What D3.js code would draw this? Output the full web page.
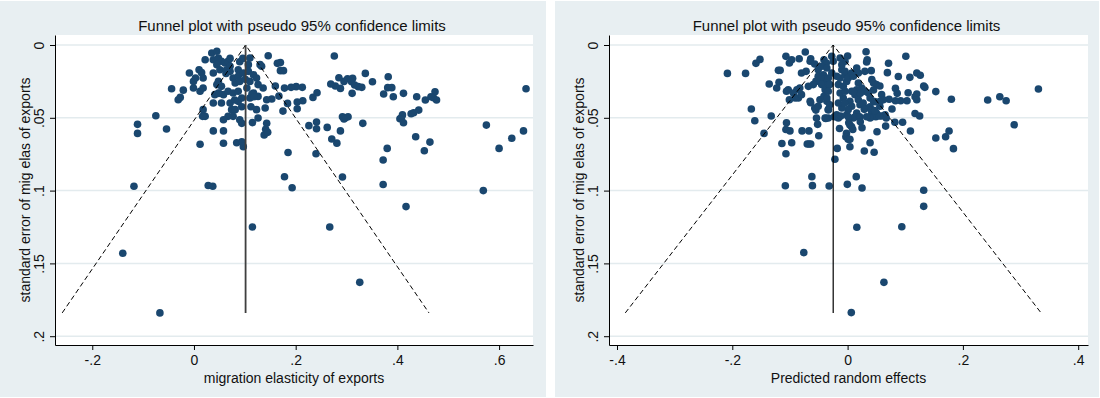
<!DOCTYPE html>
<html>
<head>
<meta charset="utf-8">
<script src="https://cdn.jsdelivr.net/npm/d3@7"></script>
<style>
  body { margin: 0; background: #fff; }
  svg { display: block; font-family: "Liberation Sans", Arial, sans-serif; }
</style>
</head>
<body>
<svg id="chart" width="1100" height="398"></svg>
<script>
// [effect, standard error] (migration elasticity of exports)
const elasticityPoints = [
  [0.653,0.030],[0.575,0.055],[0.648,0.059],[0.625,0.064],[0.600,0.071],[0.569,0.100],[0.417,0.111],[0.326,0.163],
  [0.267,0.125],[0.115,0.125],[-0.067,0.184],[-0.140,0.143],[-0.118,0.097],[0.028,0.0965],[0.037,0.097],[0.193,0.098],
  [0.178,0.0905],[0.292,0.0907],[0.372,0.0958],[0.372,0.079],[0.380,0.071],[0.453,0.0726],[0.464,0.0667],[0.436,0.063],
  [0.240,0.0747],[0.185,0.0738],[0.281,0.0674],[0.271,0.0646],[0.288,0.059],[0.262,0.0566],[0.226,0.0554],[0.241,0.0575],
  [0.241,0.0529],[0.332,0.0538],[0.292,0.0493],[0.298,0.050],[0.303,0.0493],[0.295,0.0508],[0.408,0.050],[0.410,0.048],
  [0.405,0.0506],[0.412,0.0534],[0.427,0.0472],[0.432,0.0465],[0.442,0.0447],[0.438,0.0355],[0.455,0.0378],[0.471,0.0362],
  [0.474,0.0321],[0.477,0.0378],[0.466,0.0355],[0.412,0.0332],[0.392,0.0355],[0.373,0.0337],[0.381,0.0293],[0.389,0.0293],
  [0.382,0.0218],[0.351,0.0252],[0.337,0.0195],[0.330,0.0291],[0.323,0.0286],[0.311,0.0332],[0.310,0.0252],[0.312,0.0229],
  [0.302,0.0232],[0.295,0.025],[0.285,0.0225],[0.288,0.0298],[0.278,0.0282],[0.269,0.0268],[0.276,0.0076],[0.316,0.0275],
  [0.234,0.036],[0.242,0.0328],[0.213,0.0291],[0.201,0.0286],[0.191,0.0291],[0.178,0.0296],[0.203,0.0392],[0.203,0.0438],
  [0.214,0.0383],[0.184,0.0401],[0.175,0.0454],[0.167,0.0351],[0.153,0.0371],[0.160,0.0282],[0.170,0.0176],[0.176,0.0176],
  [0.164,0.0126],[0.170,0.0121],[0.146,0.0074],
  [-0.075,0.0486],[-0.044,0.030],[-0.021,0.031],[-0.031,0.0376],[-0.027,0.036],[-0.009,0.0192],[-0.001,0.025],[0.003,0.0227],
  [-0.001,0.0295],[0.010,0.017],[0.015,0.019],[0.018,0.0227],[0.012,0.0318],[0.018,0.0295],[0.022,0.0101],[0.035,0.0055],
  [0.045,0.0043],[0.038,0.0101],[0.048,0.0089],[0.054,0.0112],[0.045,0.0135],[0.061,0.0124],[0.067,0.0112],[0.051,0.017],
  [0.064,0.017],[0.071,0.0146],[0.038,0.0192],[0.048,0.025],[0.045,0.0272],[0.054,0.0284],[0.048,0.033],[0.041,0.0341],
  [0.058,0.0341],[0.067,0.0318],[0.077,0.033],[0.087,0.0318],[0.094,0.0364],[0.087,0.0387],[0.038,0.0398],[0.054,0.0398],
  [0.071,0.0398],[0.074,0.0444],[0.081,0.0444],[0.067,0.049],[0.022,0.049],[0.017,0.049],[0.018,0.0444],[0.077,0.049],
  [0.058,0.0513],[0.090,0.0513],[0.071,0.0181],[0.077,0.0227],[0.081,0.0261],[0.087,0.017],[0.087,0.0215],[0.090,0.025],
  [0.097,0.0192],[0.110,0.0089],[0.107,0.0135],[0.107,0.0181],[0.110,0.025],[0.117,0.0204],[0.123,0.0227],[0.126,0.0272],
  [0.117,0.033],[0.104,0.0295],[0.110,0.0364],[0.126,0.0353],[0.136,0.0295],[0.143,0.0376],[0.140,0.0433],[0.123,0.0444],
  [0.126,0.0501],[0.133,0.0146],[0.130,0.0135],
  [0.114,0.0337],[0.118,0.0355],[0.112,0.0424],[0.094,0.0424],[0.080,0.0378],[0.049,0.0332],[0.063,0.0195],[0.090,0.0115],
  [0.096,0.0092],[0.071,0.0092],[0.101,0.0236],
  [0.143,0.0538],[0.115,0.0533],[0.141,0.0579],[0.138,0.0618],[0.145,0.060],[0.094,0.0538],[0.038,0.059],[0.058,0.059],
  [0.058,0.0675],[0.012,0.0682],[0.084,0.0671],[0.094,0.0664],[0.097,0.0698],[-0.111,0.0545],[-0.111,0.0607],[-0.054,0.0577]
];

// [predicted random effect, standard error]
const randomEffectPoints = [
  [-0.2085,0.0195],[-0.177,0.0195],[-0.159,0.0126],[-0.152,0.0099],[-0.167,0.044],[-0.161,0.052],[-0.1325,0.0488],[-0.145,0.0607],
  [-0.136,0.0268],[-0.114,0.0676],[-0.097,0.0671],[-0.107,0.0747],[-0.108,0.0967],[-0.106,0.0534],[-0.107,0.058],[-0.100,0.059],
  [-0.079,0.059],[-0.067,0.059],[-0.070,0.068],[-0.064,0.068],[-0.067,0.068],[-0.050,0.0623],[-0.052,0.0545],[-0.055,0.0447],
  [-0.064,0.0396],[-0.062,0.0904],[-0.061,0.0966],[-0.032,0.0968],[-0.076,0.1426],[-0.022,0.0785],[-0.018,0.071],[-0.0005,0.0957],
  [0.015,0.0904],[0.025,0.0982],[0.016,0.1252],[0.063,0.163],[0.0064,0.1838],[0.094,0.1248],[0.132,0.0998],[0.132,0.1108],
  [0.1836,0.0712],[0.153,0.0639],[0.170,0.063],[0.176,0.0591],[0.109,0.0591],[0.0954,0.0531],[0.082,0.0531],[0.066,0.0557],
  [0.051,0.0596],[0.039,0.0671],[0.029,0.0728],[0.046,0.0737],[0.117,0.047],[0.125,0.0488],[0.092,0.0383],[0.083,0.0383],
  [0.103,0.0383],[0.117,0.0355],[0.134,0.0291],[0.132,0.0282],[0.153,0.032],[0.180,0.0373],[0.243,0.0378],[0.264,0.0355],
  [0.275,0.0383],[0.331,0.0302],[0.289,0.0548],[0.101,0.0077],[0.071,0.0125],[0.069,0.019],[0.041,0.0176],[0.032,0.0046],
  [0.034,0.0101],[0.033,0.0117],[0.0,0.0076],[0.120,0.0192],[0.126,0.0208],[0.108,0.0222],[0.088,0.0216],[0.083,0.0298],
  [0.086,0.0332],[0.105,0.0328],[0.120,0.0337],[0.072,0.0373],[0.077,0.044],[0.059,0.0488],[0.049,0.0493],[0.120,0.0376],
  [-0.107,0.0078],[-0.101,0.0124],[-0.097,0.0101],[-0.084,0.0094],[-0.0734,0.0048],[-0.064,0.0094],[-0.065,0.0112],[-0.057,0.013],
  [-0.051,0.017],[-0.041,0.0101],[-0.037,0.0124],[-0.045,0.0146],[-0.036,0.0158],[-0.080,0.0192],[-0.072,0.0181],[-0.051,0.0215],
  [-0.042,0.0204],[-0.055,0.025],[-0.048,0.0238],[-0.041,0.0238],[-0.035,0.0245],[-0.0595,0.0272],[-0.045,0.0272],[-0.0335,0.0272],
  [-0.039,0.0307],[-0.068,0.0284],[-0.083,0.0295],[-0.088,0.0307],[-0.103,0.0307],[-0.106,0.0318],[-0.094,0.033],[-0.091,0.0364],
  [-0.0855,0.0364],[-0.080,0.0341],[-0.101,0.0376],[-0.065,0.0387],[-0.048,0.0376],[-0.057,0.0433],[-0.051,0.0421],[-0.041,0.0352],
  [-0.036,0.0387],[-0.0335,0.0444],[-0.054,0.0501],[-0.039,0.0501],[-0.120,0.0174],[-0.117,0.0174],[-0.119,0.0256],[-0.123,0.0295],
  [0.059,0.0341],[0.062,0.0376],[0.056,0.0421],[0.050,0.0467],[0.065,0.0479],[0.067,0.0501],[0.042,0.0467],[0.045,0.049],
  [0.039,0.0501],[0.030,0.0433],[0.039,0.0364],[0.045,0.0387],[0.030,0.0318],[0.036,0.033],[0.045,0.0261],[0.050,0.0272],
  [0.042,0.0238],[0.0186,0.0261],[0.0245,0.0295],[0.0158,0.0307],[0.007,0.0318],[0.0128,0.0341],[0.0186,0.0376],[0.004,0.0387],
  [0.007,0.0421],[0.0215,0.041],[0.027,0.0398],[0.0158,0.0467],[-0.0016,0.0479],[0.001,0.0444],[0.010,0.0501],[-0.016,0.0501],
  [-0.019,0.0479],[-0.010,0.0433],[-0.016,0.0398],[-0.0075,0.0364],[-0.013,0.033],[-0.0045,0.0318],[-0.016,0.0272],[-0.0075,0.0284],
  [-0.0016,0.025],[-0.019,0.0215],[-0.013,0.0227],[-0.0045,0.0204],[0.001,0.0227],[-0.010,0.017],[-0.0045,0.0181],[-0.0275,0.0192],
  [-0.0335,0.0227],[-0.031,0.0272],[-0.0335,0.0318],[-0.036,0.0364],[-0.031,0.041],[-0.0335,0.0444],[-0.0335,0.0501],[-0.0045,0.0112],
  [-0.010,0.0135],[-0.025,0.0112],[-0.0275,0.0078],[-0.013,0.0089],[0.0158,0.0158],[0.0186,0.0192],[0.030,0.0181],[0.007,0.0192],
  [0.010,0.0215],[0.056,0.0282],[0.045,0.0309],[0.022,0.0332],[0.010,0.032],[0.048,0.039],[0.039,0.0424],[0.055,0.0488],
  [-0.023,0.0493],[-0.018,0.0493],[-0.012,0.0488],[-0.038,0.0504],[-0.005,0.040],[0.001,0.0493],[0.013,0.0493],[0.002,0.0534],
  [0.004,0.055],[0.007,0.0561],[0.009,0.058],[-0.002,0.0607],[-0.003,0.063],[0.001,0.0648],[0.004,0.0648],[0.004,0.0699],
  [-0.014,0.0573],[0.021,0.0493],[0.022,0.0527],[0.025,0.0568],[0.029,0.0442],[0.033,0.0493],[0.041,0.0447],[0.047,0.0451],
  [0.056,0.0389]
];

const elasticityTicks = [-0.2, 0, 0.2, 0.4, 0.6];
const randomEffectTicks = [-0.4, -0.2, 0, 0.2, 0.4];
const seTicks = [0, 0.05, 0.1, 0.15, 0.2];

const elasticityCenter = 0.1015;   // pooled estimate, left funnel
const randomEffectCenter = -0.025; // pooled estimate, right funnel
const seMax = 0.184;
const z95 = 1.96;

const titleText = "Funnel plot with pseudo 95% confidence limits";
const yTitleText = "standard error of mig elas of exports";

const navy = "#1a476f";
const panelBg = "#e8eff2";
const gridColor = "#e3ebee";

const svg = d3.select("#chart");
const fmt = d => String(d).replace("0.", ".");

const y = d3.scaleLinear().domain([-0.00687, 0.20604]).range([35, 345]);

const panels = [
  { left: 0, right: 546, plotL: 55, plotR: 533, domain: [-0.2733, 0.6667],
    ticks: elasticityTicks, points: elasticityPoints, center: elasticityCenter,
    xTitle: "migration elasticity of exports", vColor: "#3f3f3f", vWidth: 1.8 },
  { left: 555, right: 1100, plotL: 609, plotR: 1088, domain: [-0.4139, 0.417],
    ticks: randomEffectTicks, points: randomEffectPoints, center: randomEffectCenter,
    xTitle: "Predicted random effects", vColor: "#000", vWidth: 1.2 }
];

panels.forEach(p => {
  const x = d3.scaleLinear().domain(p.domain).range([p.plotL, p.plotR]);
  const g = svg.append("g");

  g.append("rect")
    .attr("x", p.left).attr("y", 1)
    .attr("width", p.right - p.left - (p.left ? 1 : 0)).attr("height", 396)
    .attr("fill", panelBg);

  g.append("rect")
    .attr("x", p.plotL).attr("y", y.range()[0])
    .attr("width", p.plotR - p.plotL).attr("height", y.range()[1] - y.range()[0])
    .attr("fill", "#fff");

  g.selectAll(".grid")
    .data(seTicks)
    .enter().append("line")
    .attr("x1", p.plotL).attr("x2", p.plotR)
    .attr("y1", d => y(d)).attr("y2", d => y(d))
    .attr("stroke", gridColor).attr("stroke-width", 1.5);

  g.selectAll(".dot")
    .data(p.points)
    .enter().append("circle")
    .attr("cx", d => x(d[0]))
    .attr("cy", d => y(d[1]))
    .attr("r", 3.8)
    .attr("fill", navy);

  // pseudo 95% limits
  const funnel = [[p.center - z95 * seMax, seMax], [p.center, 0], [p.center + z95 * seMax, seMax]];
  g.append("path")
    .attr("d", d3.line().x(d => x(d[0])).y(d => y(d[1]))(funnel))
    .attr("fill", "none").attr("stroke", "#000")
    .attr("stroke-width", 1).attr("stroke-dasharray", "5,3");

  g.append("line")
    .attr("x1", x(p.center)).attr("x2", x(p.center))
    .attr("y1", y(0)).attr("y2", y(seMax))
    .attr("stroke", p.vColor).attr("stroke-width", p.vWidth);

  // axes
  const yAxis = g.append("g")
    .attr("transform", `translate(${p.plotL},0)`)
    .call(d3.axisLeft(y).tickValues(seTicks).tickSize(5).tickSizeOuter(0).tickFormat(fmt));
  yAxis.selectAll("text")
    .attr("x", 0).attr("y", -11).attr("dy", 0)
    .attr("transform", "rotate(-90)")
    .attr("text-anchor", "middle");

  const xAxis = g.append("g")
    .attr("transform", `translate(0,${y.range()[1]})`)
    .call(d3.axisBottom(x).tickValues(p.ticks).tickSize(5).tickSizeOuter(0).tickFormat(fmt));
  xAxis.selectAll("text").attr("y", 20).attr("dy", 0);

  [yAxis, xAxis].forEach(a => {
    a.attr("font-size", 14).attr("font-family", null);
    a.selectAll("text").attr("fill", "#111");
  });

  const cx = (p.plotL + p.plotR) / 2;
  g.append("text")
    .attr("x", cx - 2).attr("y", 30.5)
    .attr("text-anchor", "middle").attr("font-size", 15).attr("fill", "#111")
    .text(titleText);

  g.append("text")
    .attr("x", cx).attr("y", 383)
    .attr("text-anchor", "middle").attr("font-size", 14).attr("fill", "#111")
    .text(p.xTitle);

  g.append("text")
    .attr("transform", `translate(${p.plotL - 25},190) rotate(-90)`)
    .attr("text-anchor", "middle").attr("font-size", 14).attr("fill", "#111")
    .text(yTitleText);
});
</script>
</body>
</html>
